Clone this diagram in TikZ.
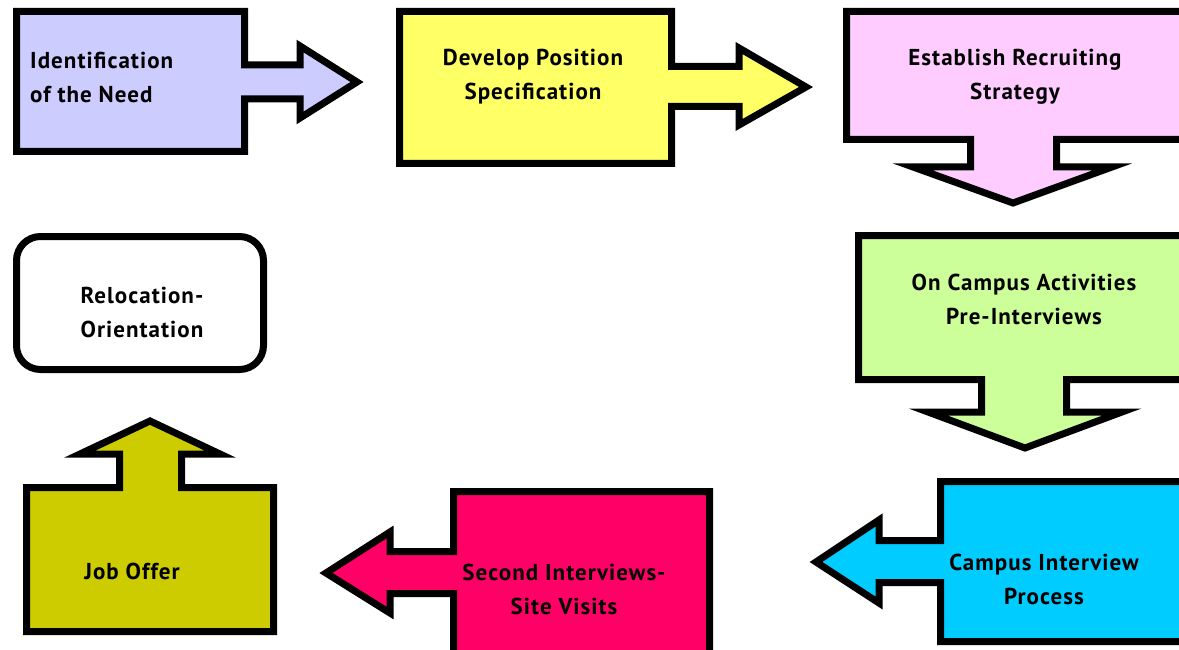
\documentclass[tikz,border=0pt]{standalone}
\usepackage{fontspec}
\setmainfont{PT Sans}
\newfontfamily\lblfont[LetterSpace=4.5]{PT Sans}
\definecolor{cblue}{HTML}{CCCCFF}
\definecolor{cyellow}{HTML}{FFFF66}
\definecolor{cpink}{HTML}{FFCCFF}
\definecolor{cgreen}{HTML}{CCFF99}
\definecolor{ccyan}{HTML}{00CCFF}
\definecolor{cmag}{HTML}{FF0066}
\definecolor{colive}{HTML}{CCCC00}
\tikzset{
  blockarrow/.style={draw=black, line width=7pt, line join=miter},
  lbl/.style={font=\lblfont\fontsize{23}{34}\selectfont\bfseries, inner sep=0pt},
}
\begin{document}
\begin{tikzpicture}[x=1pt,y=-1pt]
\useasboundingbox (0,0) rectangle (1179,650);
\clip (0,0) rectangle (1179,650);
\fill[white] (0,0) rectangle (1179,650);
% 1
\draw[blockarrow, fill=cblue] (16.5,11.5) -- (244.5,11.5) -- (244.5,65) -- (300,65) -- (300,46) -- (357,82) -- (300,118) -- (300,99) -- (244.5,99) -- (244.5,151.5) -- (16.5,151.5) -- cycle;
\node[lbl, anchor=west, align=left] (n1) at (30,77) {Identification\\of the Need};
% 2
\draw[blockarrow, fill=cyellow] (399.5,11.5) -- (671.5,11.5) -- (671.5,66.5) -- (739,66.5) -- (739,48) -- (806,87) -- (739,125) -- (739,106.5) -- (671.5,106.5) -- (671.5,163.5) -- (399.5,163.5) -- cycle;
\node[lbl, align=center] (n2) at (533,77) {Develop Position\\Specification};
% 3
\draw[blockarrow, fill=cpink] (846.5,11.5) -- (1190,11.5) -- (1190,139.5) -- (1056.5,139.5) -- (1056.5,167) -- (1112,167) -- (1013,203) -- (913,167) -- (970.5,167) -- (970.5,139.5) -- (846.5,139.5) -- cycle;
\node[lbl, align=center] (n3) at (1015,77) {Establish Recruiting\\Strategy};
% 4
\draw[blockarrow, fill=cgreen] (858.5,235.5) -- (1190,235.5) -- (1190,379.5) -- (1066.5,379.5) -- (1066.5,412) -- (1122,412) -- (1025,448) -- (928,412) -- (981.5,412) -- (981.5,379.5) -- (858.5,379.5) -- cycle;
\node[lbl, align=center] (n4) at (1024,299) {On Campus Activities\\Pre-Interviews};
% 5
\draw[blockarrow, fill=ccyan] (940.5,481.5) -- (1190,481.5) -- (1190,641.5) -- (940.5,641.5) -- (940.5,582.5) -- (879,582.5) -- (879,603) -- (816,562) -- (879,520) -- (879,540.5) -- (940.5,540.5) -- cycle;
\node[lbl, align=center] (n5) at (1044,579) {Campus Interview\\Process};
% 6
\draw[blockarrow, fill=cmag] (453.5,491.5) -- (709.5,491.5) -- (709.5,665) -- (453.5,665) -- (453.5,593.5) -- (390,593.5) -- (390,613) -- (326,573) -- (390,532) -- (390,551.5) -- (453.5,551.5) -- cycle;
\node[lbl, align=center] (n6) at (564,589) {Second Interviews-\\Site Visits};
% 7
\draw[blockarrow, fill=colive] (26.5,487.5) -- (119.5,487.5) -- (119.5,454) -- (80,454) -- (150,421) -- (220,454) -- (181.5,454) -- (181.5,487.5) -- (273.5,487.5) -- (273.5,631.5) -- (26.5,631.5) -- cycle;
\node[lbl] (n7) at (132,571) {Job Offer};
% 8
\draw[line width=7pt, fill=white, rounded corners=24pt] (16.5,236.5) rectangle (263.5,369.5);
\node[lbl, align=center] (n8) at (142,312) {Relocation-\\Orientation};
\end{tikzpicture}
\end{document}
